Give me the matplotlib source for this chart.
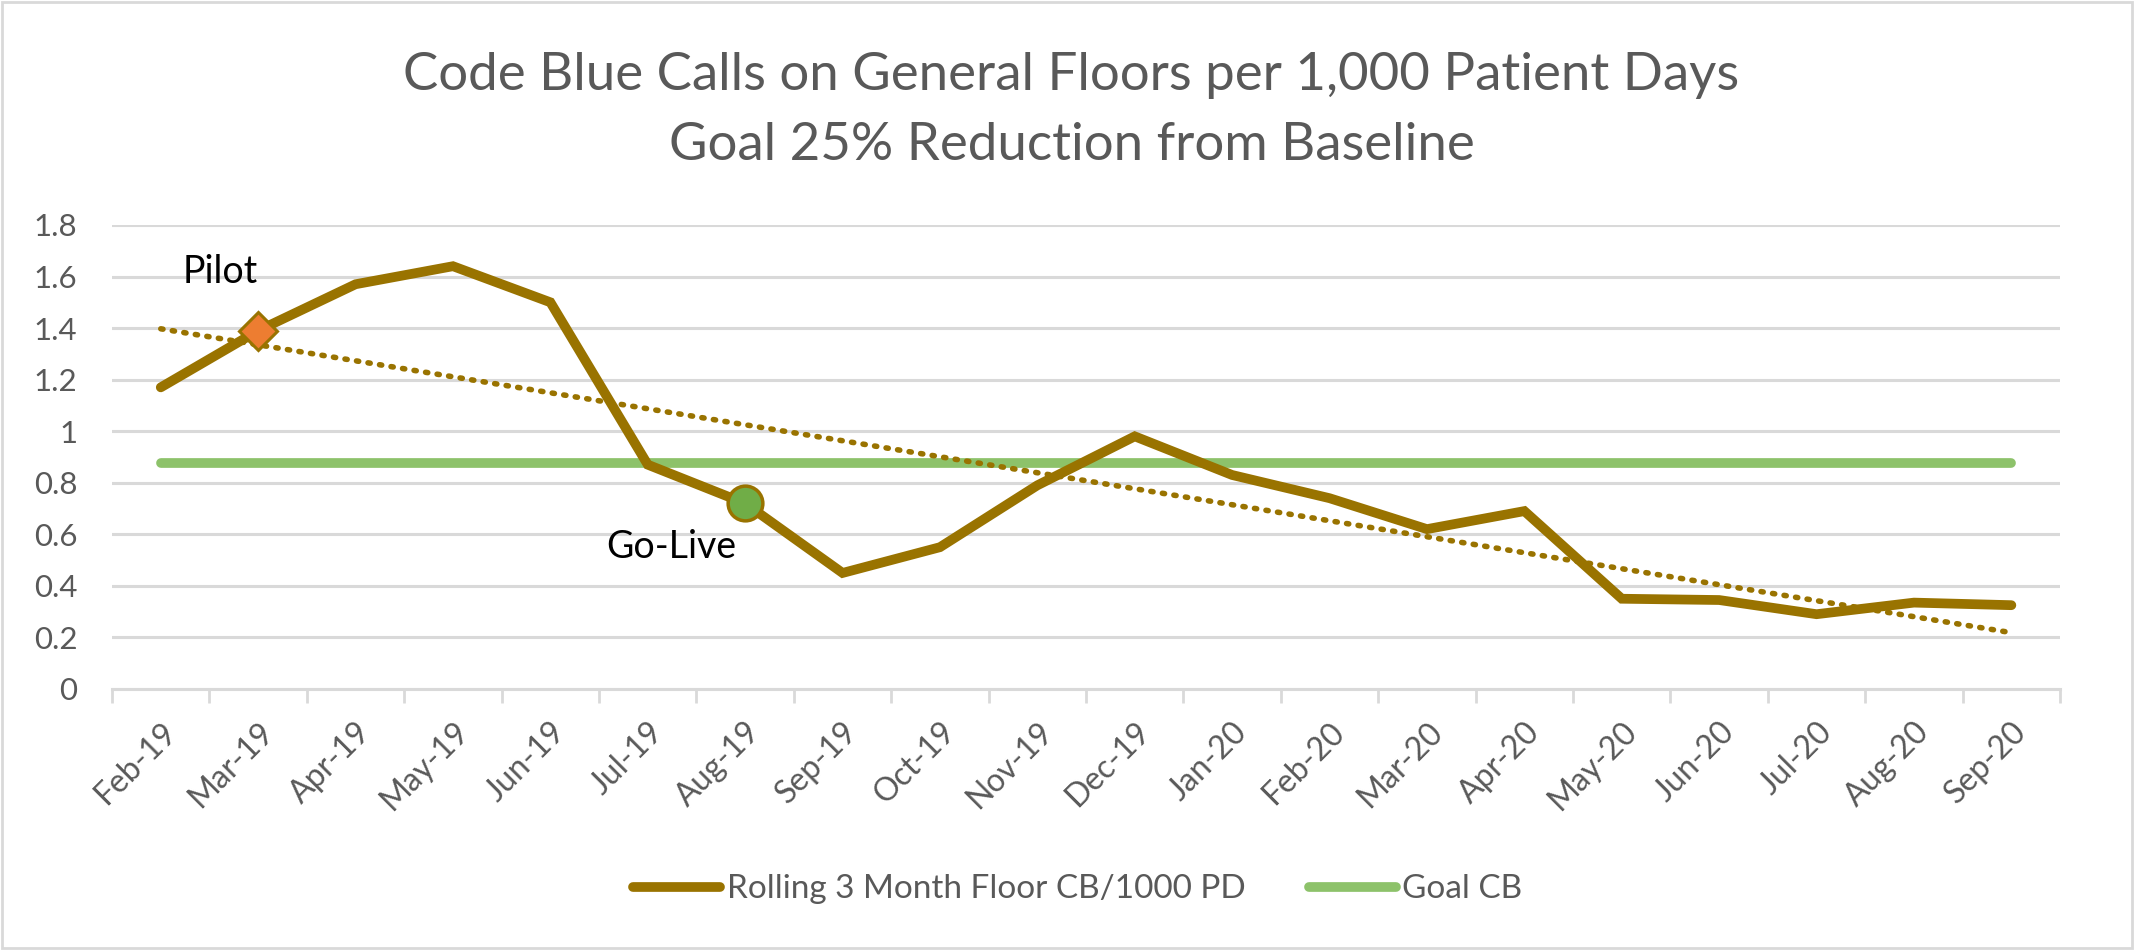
import matplotlib
matplotlib.use('Agg')
import matplotlib.pyplot as plt
import matplotlib.patches as patches
import numpy as np

# data
months = ['Feb-19', 'Mar-19', 'Apr-19', 'May-19', 'Jun-19', 'Jul-19', 'Aug-19',
          'Sep-19', 'Oct-19', 'Nov-19', 'Dec-19', 'Jan-20', 'Feb-20', 'Mar-20',
          'Apr-20', 'May-20', 'Jun-20', 'Jul-20', 'Aug-20', 'Sep-20']
rolling = [1.17, 1.39, 1.57, 1.64, 1.50, 0.87, 0.72, 0.45, 0.55, 0.79,
           0.98, 0.83, 0.74, 0.62, 0.69, 0.35, 0.345, 0.29, 0.335, 0.325]
goal = [0.875] * len(months)
pilot_idx = 1
golive_idx = 6

plt.rcParams['font.family'] = ['Lato', 'DejaVu Sans']
grey = '#595959'
gold = '#997300'
green = '#8DC26A'

fig = plt.figure(figsize=(21.43, 9.52), dpi=100)
ax = fig.add_axes([0.0523, 0.2763, 0.909, 0.4874])

x = np.arange(len(months))

# gridlines
ax.set_ylim(0, 1.8)
ax.set_yticks(np.arange(0, 1.81, 0.2))
ax.set_yticklabels(['0', '0.2', '0.4', '0.6', '0.8', '1', '1.2', '1.4', '1.6', '1.8'])
ax.yaxis.grid(True, color='#D9D9D9', linewidth=2.2)
ax.set_axisbelow(True)

l1, = ax.plot(x, rolling, color=gold, linewidth=7, solid_capstyle='round',
              solid_joinstyle='miter', label='Rolling 3 Month Floor CB/1000 PD', zorder=3)
l2, = ax.plot(x, goal, color=green, linewidth=7, solid_capstyle='round',
              label='Goal CB', zorder=2)

# linear trendline like Excel
k, b = np.polyfit(x, rolling, 1)
ax.plot(x, k * x + b, color=gold, linewidth=4, linestyle=(0, (0.4, 1.7)),
        dash_capstyle='round', zorder=2.5)

# milestone markers
ax.plot(x[pilot_idx], rolling[pilot_idx], marker='D', markersize=19,
        markerfacecolor='#ED7D31', markeredgecolor=gold, markeredgewidth=2.2, zorder=4)
ax.plot(x[golive_idx], rolling[golive_idx], marker='o', markersize=25,
        markerfacecolor='#70AD47', markeredgecolor=gold, markeredgewidth=2.5, zorder=4)
ax.annotate('Pilot', (x[pilot_idx], rolling[pilot_idx]), xytext=(-38, 48),
            textcoords='offset pixels', ha='center', va='baseline', fontsize=27, color='black')
ax.annotate('Go-Live', (x[golive_idx], rolling[golive_idx]), xytext=(-74, -55),
            textcoords='offset pixels', ha='center', va='baseline', fontsize=27, color='black')

ax.set_xlim(-0.5, len(months) - 0.5)
ax.set_xticks(x)
ax.set_xticklabels(months, rotation=45, ha='right', rotation_mode='anchor')
ax.set_xticks(np.arange(-0.5, len(months)), minor=True)
ax.tick_params(axis='x', which='major', length=0, pad=20, labelsize=23, labelcolor=grey)
ax.tick_params(axis='x', which='minor', length=10, width=2, color='#D9D9D9')
ax.tick_params(axis='y', length=0, pad=25, labelsize=22.5, labelcolor=grey)

for s in ['top', 'right', 'left']:
    ax.spines[s].set_visible(False)
ax.spines['bottom'].set_color('#D9D9D9')
ax.spines['bottom'].set_linewidth(2.2)

fig.text(0.5, 0.9055, 'Code Blue Calls on General Floors per 1,000 Patient Days',
         ha='center', va='baseline', fontsize=38, color=grey)
fig.text(0.5, 0.832, 'Goal 25% Reduction from Baseline',
         ha='center', va='baseline', fontsize=38, color=grey)

fig.legend(handles=[l1, l2], loc='center', bbox_to_anchor=(0.503, 0.066), ncol=2,
           frameon=False, fontsize=24, labelcolor=grey, handlelength=2.6,
           handletextpad=0.2, columnspacing=1.9)

# chart border
fig.patches.append(patches.Rectangle((0.001, 0.004), 0.994, 0.994, transform=fig.transFigure,
                                     fill=False, edgecolor='#D9D9D9', linewidth=2))

plt.savefig('out.png', dpi=100)
